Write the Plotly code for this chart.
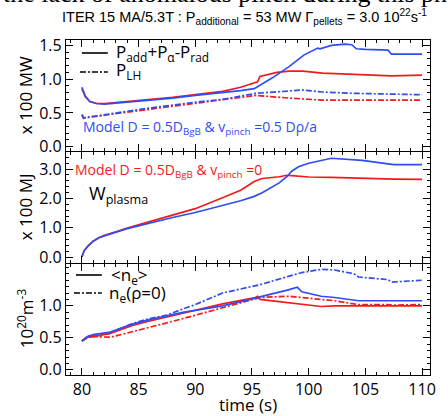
import plotly.graph_objects as go
from plotly.subplots import make_subplots

# ---------------- data ----------------
# Panel 1: power (x 100 MW)
t_pw_blue = [80.0, 80.3, 80.7, 81.3, 82.0, 85.0, 88.0, 90.0, 92.4, 94.0, 95.2, 95.4, 96.8, 98.3, 99.6, 100.8, 101.0, 102.0, 103.2, 103.8, 104.2, 105.0, 107.0, 107.3, 110.0]
p_blue = [0.88, 0.75, 0.67, 0.64, 0.63, 0.67, 0.72, 0.76, 0.80, 0.83, 0.86, 0.88, 1.02, 1.19, 1.36, 1.46, 1.45, 1.50, 1.52, 1.51, 1.45, 1.44, 1.43, 1.37, 1.37]
t_pw_red = [80.0, 80.3, 80.7, 81.3, 82.0, 85.0, 88.0, 90.0, 92.4, 94.0, 95.5, 95.7, 97.2, 98.3, 99.5, 101.2, 104.2, 107.0, 107.3, 110.0]
p_red = [0.86, 0.74, 0.67, 0.64, 0.64, 0.68, 0.73, 0.77, 0.82, 0.88, 0.96, 1.04, 1.10, 1.12, 1.12, 1.09, 1.07, 1.06, 1.05, 1.06]
t_lh = [80.0, 80.15, 80.3, 85.0, 90.0, 92.4, 95.3, 98.3, 99.5, 101.2, 104.0, 107.0, 110.0]
plh_blue = [0.48, 0.43, 0.43, 0.55, 0.66, 0.70, 0.79, 0.83, 0.84, 0.81, 0.79, 0.78, 0.77]
plh_red = [0.47, 0.42, 0.43, 0.53, 0.64, 0.69, 0.76, 0.72, 0.71, 0.69, 0.69, 0.69, 0.69]

# Panel 2: stored energy (x 100 MJ)
t_w = [80.0, 80.2, 80.6, 81.0, 81.5, 82.0, 83.0, 84.0, 85.9, 88.0, 90.0, 92.4, 94.0, 95.2, 95.9, 97.4, 98.1, 98.5, 99.1, 100.0, 102.0, 104.7, 107.5, 110.0]
w_blue = [0.0, 0.22, 0.40, 0.54, 0.66, 0.73, 0.85, 0.97, 1.16, 1.35, 1.52, 1.75, 1.92, 2.07, 2.19, 2.53, 2.75, 2.93, 3.08, 3.20, 3.37, 3.30, 3.15, 3.15]
w_red = [0.0, 0.22, 0.40, 0.54, 0.66, 0.74, 0.86, 0.99, 1.20, 1.43, 1.65, 2.02, 2.28, 2.58, 2.68, 2.74, 2.79, 2.78, 2.75, 2.73, 2.72, 2.68, 2.66, 2.65]

# Panel 3: density (10^20 m^-3)
t_n = [80.0, 80.5, 81.0, 82.5, 83.0, 84.4, 85.9, 87.4, 88.9, 90.0, 92.4, 95.3, 95.5, 95.7, 98.2, 99.0, 99.4, 101.1, 102.3, 104.0, 104.4, 107.0, 107.3, 110.0]
ne_blue = [0.45, 0.52, 0.55, 0.59, 0.62, 0.71, 0.78, 0.84, 0.90, 0.93, 1.00, 1.12, 1.13, 1.14, 1.25, 1.29, 1.22, 1.15, 1.13, 1.08, 1.08, 1.08, 1.08, 1.08]
ne_red = [0.45, 0.51, 0.52, 0.57, 0.60, 0.69, 0.76, 0.82, 0.89, 0.93, 1.03, 1.13, 1.15, 1.10, 1.05, 1.04, 1.03, 0.99, 1.00, 1.00, 1.00, 1.00, 0.99, 1.00]
n0_blue = [0.45, 0.50, 0.53, 0.57, 0.62, 0.72, 0.80, 0.85, 0.95, 1.02, 1.20, 1.31, 1.32, 1.33, 1.46, 1.50, 1.52, 1.57, 1.56, 1.50, 1.45, 1.41, 1.37, 1.40]
n0_red = [0.45, 0.53, 0.52, 0.51, 0.53, 0.59, 0.66, 0.73, 0.80, 0.85, 0.97, 1.11, 1.12, 1.13, 1.15, 1.14, 1.13, 1.10, 1.08, 1.03, 1.02, 1.02, 1.01, 1.02]

x_ticks = [80, 85, 90, 95, 100, 105, 110]
y1_ticks = [0.0, 0.5, 1.0, 1.5]
y2_ticks = [0.0, 1.0, 2.0, 3.0]
y3_ticks = [0.0, 0.5, 1.0]

# ---------------- styling ----------------
BLUE = "#2f4cf5"
RED = "#f21a1a"
DD = "6px,2px,2px,2px"
FONT = "Open Sans"

fig = make_subplots(rows=3, cols=1, shared_xaxes=True, vertical_spacing=0.004)

def add(x, y, color, row, dash="solid", width=1.7):
    fig.add_trace(go.Scatter(x=x, y=y, mode="lines", line=dict(color=color, width=width, dash=dash),
                             showlegend=False), row=row, col=1)

add(t_lh, plh_red, RED, 1, DD)
add(t_lh, plh_blue, BLUE, 1, DD)
add(t_pw_red, p_red, RED, 1)
add(t_pw_blue, p_blue, BLUE, 1)

add(t_w, w_red, RED, 2)
add(t_w, w_blue, BLUE, 2)

add(t_n, n0_red, RED, 3, DD)
add(t_n, n0_blue, BLUE, 3, DD)
add(t_n, ne_red, RED, 3)
add(t_n, ne_blue, BLUE, 3)

axis_common = dict(showline=True, linecolor="black", linewidth=1.3, mirror="allticks",
                   ticks="inside", ticklen=7, tickwidth=1, tickcolor="black",
                   showgrid=False, zeroline=False,
                   tickfont=dict(family=FONT, size=16, color="black"))

for r in (1, 2, 3):
    fig.update_xaxes(range=[78.6, 110.7], tickvals=x_ticks,
                     minor=dict(dtick=1, ticklen=3, ticks="inside", tickcolor="black"),
                     showticklabels=(r == 3), row=r, col=1, **axis_common)

fig.update_yaxes(range=[-0.06, 1.58], tickvals=y1_ticks, ticktext=["0.0", "0.5", "1.0", "1.5"],
                 minor=dict(dtick=0.1, ticklen=3, ticks="inside", tickcolor="black"), row=1, col=1, **axis_common)
fig.update_yaxes(range=[-0.2, 3.58], tickvals=y2_ticks, ticktext=["0.0", "1.0", "2.0", "3.0"],
                 minor=dict(dtick=0.2, ticklen=3, ticks="inside", tickcolor="black"), row=2, col=1, **axis_common)
fig.update_yaxes(range=[-0.08, 1.65], tickvals=y3_ticks, ticktext=["0.0", "0.5", "1.0"],
                 minor=dict(dtick=0.1, ticklen=3, ticks="inside", tickcolor="black"), row=3, col=1, **axis_common)

L, R, T, B = 66, 16, 40, 41
W, H = 448, 416
PW, PH = W - L - R, H - T - B

def px(x):
    return (x - L) / PW

def py(y):
    return (H - B - y) / PH

def txt(x, y, s, size, color="black", anchor="left", angle=0, family=FONT):
    fig.add_annotation(x=px(x), y=py(y), xref="paper", yref="paper", text=s, showarrow=False,
                       xanchor=anchor, yanchor="middle", textangle=angle,
                       font=dict(family=family, size=size, color=color))

def sample(x0, x1, y, dash):
    fig.add_shape(type="line", xref="paper", yref="paper", x0=px(x0), x1=px(x1), y0=py(y), y1=py(y),
                  line=dict(color="black", width=1.6, dash=dash))

# cut-off caption at very top
txt(1, -7, "the lack of anomalous pinch during this phase", 26, family="Liberation Serif")
# subtitle
txt(245, 17, "ITER 15 MA/5.3T : P<sub>additional</sub> = 53 MW \u0393<sub>pellets</sub> = 3.0 10<sup>22</sup>s<sup>-1</sup>",
    14.5, anchor="center", family="Liberation Sans")

# panel 1 legend
sample(82, 108, 53, "solid")
txt(114, 52, "P<sub>add</sub>+P<sub>\u03b1</sub>-P<sub>rad</sub>", 17)
sample(80, 108, 72, DD)
txt(114, 71, "P<sub>LH</sub>", 17)
txt(81, 127, "Model D = 0.5D<sub>BgB</sub> & v<sub>pinch</sub> =0.5 D\u03c1/a", 14, color=BLUE)

# panel 2 labels
txt(73, 170, "Model D = 0.5D<sub>BgB</sub> & v<sub>pinch</sub> =0", 14, color=RED)
txt(87, 194, "W<sub>plasma</sub>", 18)

# panel 3 legend
sample(76, 102, 275, "solid")
txt(109, 275, "&lt;n<sub>e</sub>&gt;", 17)
sample(74, 102, 293, DD)
txt(107, 293, "n<sub>e</sub>(\u03c1=0)", 17)

# axis titles
txt(25, 95, "x 100 MW", 17, anchor="center", angle=-90)
txt(25, 207, "x 100 MJ", 17, anchor="center", angle=-90)
txt(25, 318, "10<sup>20</sup>m<sup>-3</sup>", 17, anchor="center", angle=-90)
txt(249, 404, "time (s)", 17, anchor="center")

fig.update_layout(width=W, height=H, margin=dict(l=L, r=R, t=T, b=B),
                  paper_bgcolor="white", plot_bgcolor="white",
                  font=dict(family=FONT, size=16, color="black"))

fig.write_html("out.html", config={"displayModeBar": False},
               post_script="document.body.style.margin='0';")
